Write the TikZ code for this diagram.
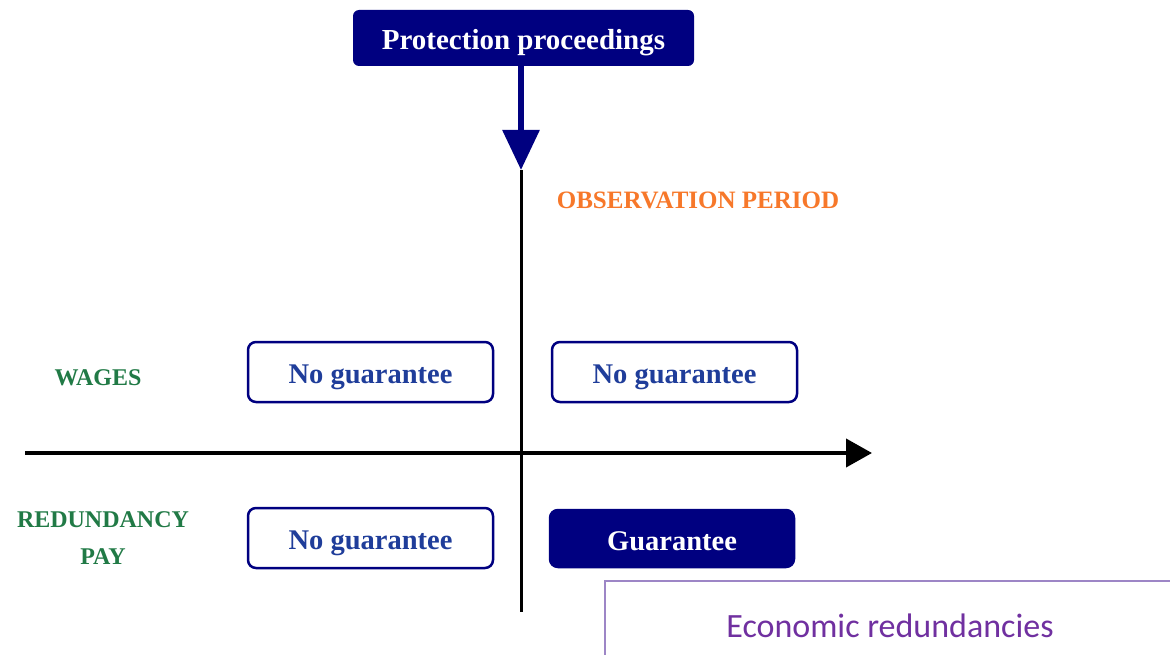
\documentclass[tikz,border=0pt]{standalone}
\usepackage{fontspec}
\setmainfont{Liberation Serif}
\newfontfamily\calibri{Carlito}
\usepackage{xcolor}
\usepackage{tikz}
\usetikzlibrary{arrows.meta}
\definecolor{navy}{HTML}{000080}
\definecolor{ink}{HTML}{1F3D9A}
\definecolor{leaf}{HTML}{217A46}
\definecolor{amber}{HTML}{F7782A}
\definecolor{plum}{HTML}{7030A0}
\definecolor{lilac}{HTML}{9D86C6}
\tikzset{
  topbox/.style={fill=navy, rounded corners=6pt, text=white, minimum width=341pt, minimum height=56pt,
    text height=23pt, text depth=0pt, font=\fontsize{29}{34}\selectfont\bfseries},
  gbox/.style={draw=navy, line width=2.5pt, rounded corners=8pt, text=ink, minimum width=245pt, minimum height=60pt,
    text height=23pt, text depth=0pt, font=\fontsize{28.5}{34}\selectfont\bfseries},
  gfill/.style={gbox, fill=navy, text=white, minimum width=244pt, minimum height=57pt},
  rowlab/.style={text=leaf, align=center, font=\fontsize{24}{37}\selectfont\bfseries},
  axis/.style={draw=black, line width=3pt},
  econ/.style={draw=lilac, line width=2pt, text=plum, minimum width=570pt, minimum height=90pt,
    font=\fontsize{34}{40}\selectfont\calibri},
}

\begin{document}
\begin{tikzpicture}[x=1pt,y=-1pt]
  \useasboundingbox[fill=white] (0,0) rectangle (1170,655);
  % start of proceedings
  \node[topbox] (proc) at (523.5,38) {Protection proceedings};
  \coordinate (tip) at (521,170);
  \draw[navy, line width=6pt, -{Triangle[length=40pt,width=36pt]}] (proc.south -| tip) -- (tip);
  % axes
  \coordinate (vbot) at (521,612);
  \draw[axis] (tip) -- (vbot);
  \coordinate (hstart) at (25,453);
  \coordinate (hend) at (872,453);
  \draw[axis, line width=4pt, -{Triangle[length=26pt,width=28pt]}] (hstart) -- (hend);
  \node[text=amber, font=\fontsize{25}{28}\selectfont\bfseries] (obs) at (698,200) {OBSERVATION PERIOD};
  % rows
  \node[rowlab] (wages) at (98,378) {WAGES};
  \node[rowlab] (pay) at (103,538) {REDUNDANCY\\PAY};
  \node[gbox] (wbefore) at (370.5,372) {No guarantee};
  \node[gbox] (wafter) at (674.5,372) {No guarantee};
  \node[gbox] (pbefore) at (370.5,538) {No guarantee};
  \node[gfill] (pafter) at (672,538.5) {Guarantee};
  % caption box
  \node[econ] (econ) at (890,626) {Economic redundancies};
\end{tikzpicture}
\end{document}
